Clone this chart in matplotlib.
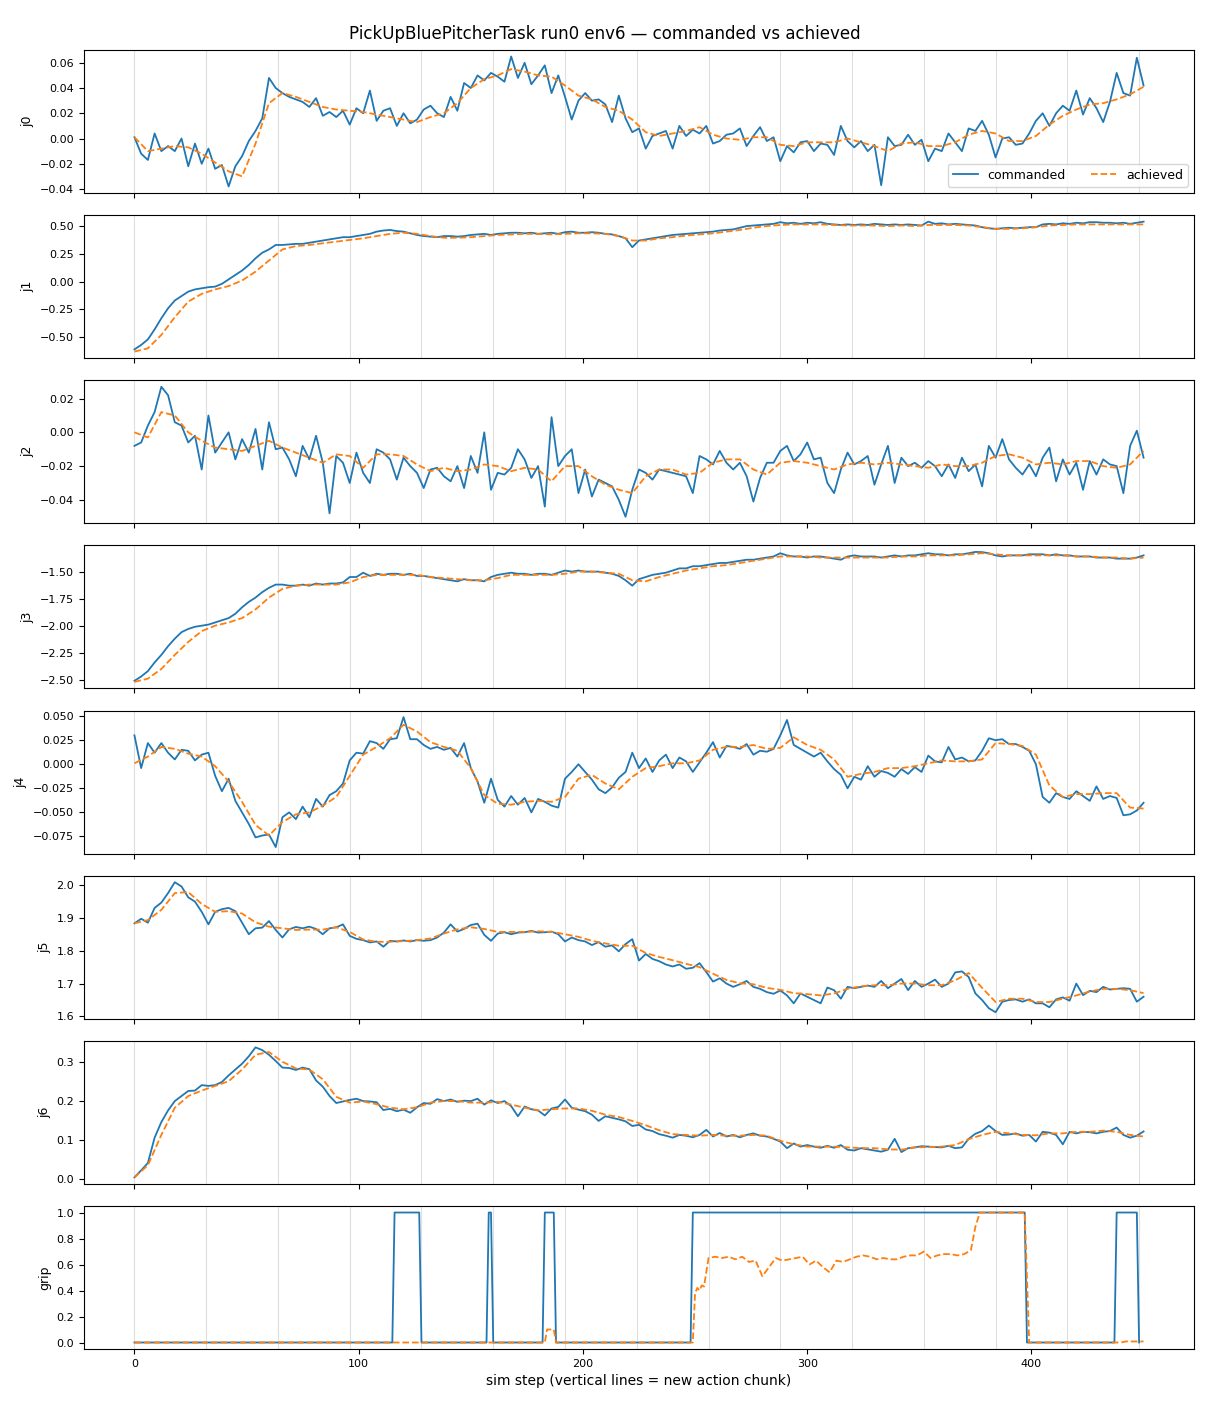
import matplotlib
matplotlib.use("Agg")
import matplotlib.pyplot as plt
import numpy as np

TITLE = "PickUpBluePitcherTask run0 env6 \u2014 commanded vs achieved"
XLABEL = "sim step (vertical lines = new action chunk)"
JOINT_NAMES = ["j0", "j1", "j2", "j3", "j4", "j5", "j6", "grip"]
CHUNK_STARTS = [0, 32, 64, 96, 128, 160, 192, 224, 256, 288, 320, 352, 384, 416, 448]

# commanded sampled every 3 sim steps, achieved every 6 sim steps
STEPS_CMD = list(range(0, 451, 3))
STEPS_ACH = list(range(0, 451, 6))

j0_cmd = [0.001, -0.012, -0.017, 0.004, -0.010, -0.006, -0.010, 0.000, -0.022, -0.004,
          -0.020, -0.008, -0.024, -0.021, -0.038, -0.022, -0.014, -0.002, 0.006, 0.016,
          0.048, 0.040, 0.036, 0.033, 0.031, 0.029, 0.025, 0.032, 0.018, 0.021,
          0.017, 0.022, 0.011, 0.024, 0.020, 0.038, 0.014, 0.022, 0.024, 0.010,
          0.020, 0.012, 0.015, 0.023, 0.026, 0.020, 0.017, 0.033, 0.022, 0.044,
          0.040, 0.050, 0.046, 0.052, 0.049, 0.045, 0.065, 0.048, 0.060, 0.043,
          0.050, 0.058, 0.036, 0.050, 0.033, 0.015, 0.030, 0.036, 0.030, 0.031,
          0.027, 0.013, 0.034, 0.016, 0.005, 0.008, -0.008, 0.002, 0.004, 0.006,
          -0.008, 0.010, 0.002, 0.007, 0.004, 0.010, -0.004, -0.002, 0.003, 0.004,
          0.008, -0.006, 0.002, 0.009, -0.002, 0.001, -0.018, -0.006, -0.011, -0.003,
          -0.002, -0.010, -0.004, -0.005, -0.013, 0.010, -0.002, -0.007, -0.002, -0.010,
          -0.005, -0.037, 0.001, -0.006, -0.005, 0.003, -0.005, -0.001, -0.018, -0.008,
          -0.010, 0.004, -0.003, -0.010, 0.008, 0.006, 0.014, 0.003, -0.015, 0.000,
          0.001, -0.005, -0.004, 0.004, 0.014, 0.020, 0.010, 0.020, 0.026, 0.022,
          0.038, 0.019, 0.032, 0.024, 0.013, 0.029, 0.052, 0.036, 0.034, 0.064,
          0.042]
j0_ach = [0.001, -0.010, -0.008, -0.006, -0.007,
          -0.012, -0.019, -0.026, -0.030, -0.004,
          0.028, 0.036, 0.033, 0.029, 0.025,
          0.023, 0.022, 0.021, 0.019, 0.017,
          0.015, 0.013, 0.017, 0.020, 0.028,
          0.040, 0.047, 0.050, 0.055, 0.053,
          0.050, 0.049, 0.042, 0.034, 0.031,
          0.025, 0.022, 0.015, 0.005, 0.002,
          0.004, 0.006, 0.009, 0.003, 0.000,
          -0.001, 0.001, 0.001, -0.005, -0.006,
          -0.003, -0.003, -0.003, 0.000, -0.003,
          -0.006, -0.010, -0.004, -0.003, -0.006,
          -0.006, -0.003, 0.003, 0.006, 0.004,
          -0.002, -0.002, 0.002, 0.011, 0.018,
          0.023, 0.027, 0.028, 0.031, 0.035,
          0.041]

j1_cmd = [-0.61, -0.57, -0.52, -0.43, -0.33, -0.24, -0.17, -0.13, -0.09, -0.07,
          -0.06, -0.05, -0.045, -0.02, 0.02, 0.06, 0.10, 0.15, 0.21, 0.26,
          0.29, 0.33, 0.33, 0.335, 0.34, 0.34, 0.35, 0.36, 0.37, 0.38,
          0.39, 0.40, 0.40, 0.41, 0.42, 0.43, 0.45, 0.46, 0.465, 0.455,
          0.45, 0.435, 0.42, 0.41, 0.405, 0.40, 0.41, 0.41, 0.405, 0.41,
          0.42, 0.425, 0.43, 0.42, 0.43, 0.435, 0.44, 0.44, 0.435, 0.44,
          0.43, 0.435, 0.44, 0.43, 0.445, 0.45, 0.44, 0.44, 0.445, 0.44,
          0.43, 0.425, 0.41, 0.39, 0.31, 0.37, 0.38, 0.39, 0.40, 0.41,
          0.42, 0.425, 0.43, 0.435, 0.44, 0.445, 0.45, 0.46, 0.465, 0.47,
          0.485, 0.50, 0.505, 0.51, 0.515, 0.52, 0.535, 0.525, 0.53, 0.52,
          0.53, 0.525, 0.535, 0.52, 0.515, 0.51, 0.515, 0.51, 0.515, 0.51,
          0.52, 0.515, 0.51, 0.515, 0.51, 0.515, 0.51, 0.505, 0.54, 0.52,
          0.525, 0.515, 0.52, 0.515, 0.51, 0.505, 0.49, 0.48, 0.475, 0.48,
          0.485, 0.48, 0.485, 0.49, 0.49, 0.515, 0.52, 0.515, 0.525, 0.52,
          0.53, 0.525, 0.535, 0.535, 0.53, 0.53, 0.525, 0.53, 0.52, 0.53,
          0.54]
j1_ach = [-0.63, -0.60, -0.48, -0.32, -0.18,
          -0.11, -0.07, -0.04, 0.01, 0.09,
          0.19, 0.29, 0.32, 0.33, 0.345,
          0.36, 0.375, 0.39, 0.41, 0.43,
          0.44, 0.43, 0.41, 0.395, 0.395,
          0.40, 0.41, 0.42, 0.425, 0.43,
          0.43, 0.425, 0.43, 0.435, 0.435,
          0.43, 0.41, 0.37, 0.37, 0.39,
          0.40, 0.415, 0.425, 0.435, 0.45,
          0.465, 0.485, 0.50, 0.51, 0.515,
          0.515, 0.515, 0.51, 0.505, 0.505,
          0.505, 0.50, 0.505, 0.50, 0.51,
          0.51, 0.51, 0.505, 0.49, 0.475,
          0.475, 0.48, 0.49, 0.505, 0.51,
          0.515, 0.515, 0.515, 0.515, 0.515,
          0.515]

j2_cmd = [-0.008, -0.006, 0.004, 0.012, 0.027, 0.022, 0.006, 0.004, -0.006, -0.002,
          -0.022, 0.010, -0.012, -0.006, 0.000, -0.016, -0.004, -0.012, 0.002, -0.022,
          0.006, -0.010, -0.009, -0.016, -0.026, -0.008, -0.016, -0.002, -0.018, -0.048,
          -0.014, -0.018, -0.030, -0.012, -0.024, -0.030, -0.010, -0.012, -0.016, -0.028,
          -0.015, -0.020, -0.024, -0.033, -0.022, -0.021, -0.026, -0.029, -0.020, -0.033,
          -0.014, -0.024, 0.000, -0.034, -0.024, -0.025, -0.021, -0.010, -0.016, -0.027,
          -0.020, -0.044, 0.009, -0.020, -0.014, -0.010, -0.036, -0.022, -0.038, -0.028,
          -0.030, -0.032, -0.040, -0.050, -0.034, -0.022, -0.024, -0.028, -0.022, -0.023,
          -0.024, -0.025, -0.026, -0.036, -0.014, -0.016, -0.019, -0.011, -0.018, -0.022,
          -0.018, -0.026, -0.041, -0.027, -0.018, -0.018, -0.011, -0.008, -0.017, -0.013,
          -0.006, -0.016, -0.015, -0.030, -0.036, -0.022, -0.012, -0.019, -0.017, -0.014,
          -0.031, -0.019, -0.008, -0.030, -0.015, -0.020, -0.018, -0.021, -0.017, -0.020,
          -0.026, -0.019, -0.027, -0.015, -0.023, -0.019, -0.032, -0.008, -0.015, -0.004,
          -0.016, -0.021, -0.025, -0.019, -0.026, -0.015, -0.009, -0.029, -0.016, -0.025,
          -0.018, -0.034, -0.017, -0.025, -0.016, -0.019, -0.020, -0.036, -0.008, 0.001,
          -0.015]
j2_ach = [0.000, -0.003, 0.012, 0.010, 0.000,
          -0.005, -0.009, -0.010, -0.011, -0.008,
          -0.005, -0.009, -0.012, -0.015, -0.018,
          -0.013, -0.014, -0.021, -0.013, -0.013,
          -0.014, -0.019, -0.023, -0.021, -0.023,
          -0.022, -0.019, -0.020, -0.023, -0.021,
          -0.022, -0.029, -0.020, -0.020, -0.026,
          -0.031, -0.034, -0.036, -0.026, -0.022,
          -0.022, -0.025, -0.024, -0.018, -0.016,
          -0.016, -0.022, -0.025, -0.018, -0.017,
          -0.018, -0.020, -0.022, -0.019, -0.018,
          -0.019, -0.018, -0.019, -0.020, -0.021,
          -0.019, -0.020, -0.020, -0.018, -0.014,
          -0.013, -0.015, -0.019, -0.018, -0.019,
          -0.017, -0.017, -0.020, -0.021, -0.019,
          -0.011]

j3_cmd = [-2.51, -2.47, -2.42, -2.34, -2.27, -2.19, -2.12, -2.06, -2.03, -2.01,
          -2.00, -1.99, -1.97, -1.95, -1.93, -1.89, -1.83, -1.78, -1.74, -1.69,
          -1.65, -1.62, -1.62, -1.63, -1.63, -1.62, -1.63, -1.61, -1.62, -1.61,
          -1.61, -1.60, -1.55, -1.55, -1.51, -1.54, -1.52, -1.53, -1.52, -1.52,
          -1.53, -1.52, -1.54, -1.54, -1.55, -1.56, -1.57, -1.58, -1.59, -1.57,
          -1.58, -1.58, -1.59, -1.55, -1.53, -1.52, -1.51, -1.52, -1.52, -1.53,
          -1.52, -1.52, -1.53, -1.51, -1.49, -1.50, -1.49, -1.50, -1.50, -1.50,
          -1.51, -1.52, -1.54, -1.58, -1.63, -1.57, -1.55, -1.53, -1.52, -1.51,
          -1.49, -1.47, -1.47, -1.45, -1.45, -1.44, -1.43, -1.42, -1.42, -1.41,
          -1.40, -1.39, -1.39, -1.38, -1.37, -1.36, -1.33, -1.35, -1.36, -1.36,
          -1.37, -1.36, -1.36, -1.37, -1.38, -1.39, -1.36, -1.35, -1.36, -1.36,
          -1.36, -1.37, -1.36, -1.35, -1.36, -1.35, -1.35, -1.34, -1.33, -1.34,
          -1.34, -1.35, -1.34, -1.34, -1.33, -1.318, -1.32, -1.33, -1.35, -1.36,
          -1.35, -1.35, -1.35, -1.34, -1.34, -1.34, -1.35, -1.34, -1.35, -1.35,
          -1.36, -1.36, -1.36, -1.37, -1.37, -1.37, -1.38, -1.38, -1.38, -1.37,
          -1.35]
j3_ach = [-2.52, -2.49, -2.40, -2.27, -2.15,
          -2.05, -2.00, -1.97, -1.93, -1.85,
          -1.74, -1.66, -1.63, -1.62, -1.62,
          -1.62, -1.60, -1.55, -1.53, -1.53,
          -1.53, -1.53, -1.55, -1.56, -1.57,
          -1.58, -1.58, -1.56, -1.53, -1.53,
          -1.53, -1.53, -1.52, -1.50, -1.50,
          -1.51, -1.52, -1.58, -1.59, -1.55,
          -1.52, -1.49, -1.47, -1.45, -1.44,
          -1.42, -1.40, -1.38, -1.36, -1.36,
          -1.36, -1.37, -1.37, -1.37, -1.37,
          -1.37, -1.37, -1.36, -1.36, -1.35,
          -1.35, -1.35, -1.34, -1.33, -1.34,
          -1.35, -1.35, -1.35, -1.35, -1.35,
          -1.36, -1.36, -1.37, -1.37, -1.38,
          -1.37]

j4_cmd = [0.030, -0.004, 0.022, 0.012, 0.022, 0.012, 0.005, 0.015, 0.014, 0.004,
          0.010, 0.012, -0.012, -0.028, -0.015, -0.038, -0.050, -0.062, -0.076, -0.074,
          -0.073, -0.086, -0.055, -0.050, -0.057, -0.044, -0.055, -0.036, -0.044, -0.032,
          -0.028, -0.020, 0.004, 0.012, 0.011, 0.024, 0.022, 0.016, 0.026, 0.027,
          0.049, 0.026, 0.026, 0.020, 0.016, 0.018, 0.015, 0.017, 0.008, 0.022,
          -0.004, -0.018, -0.040, -0.015, -0.037, -0.044, -0.033, -0.042, -0.035, -0.050,
          -0.036, -0.039, -0.043, -0.045, -0.015, -0.008, 0.000, -0.008, -0.016, -0.026,
          -0.030, -0.024, -0.014, -0.008, 0.012, -0.004, 0.006, -0.008, 0.004, 0.010,
          -0.004, 0.007, 0.003, -0.008, 0.002, 0.012, 0.023, 0.007, 0.019, 0.018,
          0.016, 0.021, 0.010, 0.014, 0.013, 0.016, 0.030, 0.046, 0.020, 0.016,
          0.012, 0.008, 0.012, 0.003, -0.005, -0.011, -0.025, -0.013, -0.016, -0.002,
          -0.013, -0.007, -0.009, -0.013, -0.005, -0.010, -0.003, -0.008, 0.009, 0.003,
          0.002, 0.018, 0.005, 0.007, 0.003, 0.004, 0.014, 0.027, 0.025, 0.026,
          0.021, 0.021, 0.018, 0.014, 0.000, -0.034, -0.040, -0.030, -0.034, -0.036,
          -0.028, -0.033, -0.038, -0.023, -0.036, -0.033, -0.035, -0.053, -0.052, -0.048,
          -0.040]
j4_ach = [0.001, 0.008, 0.018, 0.016, 0.011,
          0.008, -0.002, -0.018, -0.039, -0.063,
          -0.074, -0.060, -0.052, -0.050, -0.043,
          -0.034, -0.012, 0.010, 0.018, 0.027,
          0.041, 0.034, 0.023, 0.018, 0.014,
          -0.004, -0.032, -0.041, -0.042, -0.039,
          -0.038, -0.039, -0.034, -0.015, -0.011,
          -0.020, -0.026, -0.013, -0.004, -0.002,
          0.001, 0.001, 0.004, 0.015, 0.018,
          0.018, 0.020, 0.016, 0.017, 0.028,
          0.020, 0.015, 0.005, -0.013, -0.010,
          -0.008, -0.004, -0.004, -0.002, 0.001,
          0.004, 0.003, 0.003, 0.005, 0.022,
          0.021, 0.019, 0.010, -0.022, -0.034,
          -0.031, -0.031, -0.030, -0.030, -0.045,
          -0.046]

j5_cmd = [1.883, 1.897, 1.885, 1.930, 1.946, 1.975, 2.008, 1.995, 1.962, 1.949,
          1.918, 1.880, 1.918, 1.926, 1.930, 1.920, 1.885, 1.850, 1.868, 1.870,
          1.890, 1.863, 1.840, 1.865, 1.872, 1.868, 1.873, 1.866, 1.850, 1.868,
          1.871, 1.880, 1.845, 1.836, 1.832, 1.825, 1.828, 1.812, 1.830, 1.828,
          1.831, 1.828, 1.832, 1.830, 1.832, 1.840, 1.855, 1.880, 1.858, 1.866,
          1.878, 1.882, 1.848, 1.830, 1.852, 1.856, 1.850, 1.855, 1.856, 1.860,
          1.855, 1.856, 1.858, 1.850, 1.828, 1.840, 1.832, 1.828, 1.817, 1.826,
          1.812, 1.816, 1.798, 1.820, 1.835, 1.770, 1.790, 1.775, 1.768, 1.758,
          1.752, 1.758, 1.745, 1.748, 1.762, 1.735, 1.706, 1.716, 1.700, 1.690,
          1.698, 1.708, 1.690, 1.684, 1.674, 1.669, 1.679, 1.664, 1.640, 1.670,
          1.660, 1.650, 1.640, 1.688, 1.680, 1.654, 1.690, 1.686, 1.690, 1.694,
          1.690, 1.708, 1.686, 1.700, 1.714, 1.680, 1.708, 1.690, 1.700, 1.712,
          1.690, 1.700, 1.734, 1.737, 1.720, 1.670, 1.650, 1.625, 1.613, 1.645,
          1.650, 1.652, 1.645, 1.652, 1.640, 1.640, 1.628, 1.652, 1.658, 1.648,
          1.700, 1.665, 1.678, 1.674, 1.690, 1.682, 1.684, 1.686, 1.684, 1.645,
          1.660]
j5_ach = [1.883, 1.893, 1.924, 1.975, 1.978,
          1.942, 1.918, 1.920, 1.913, 1.886,
          1.873, 1.868, 1.863, 1.864, 1.864,
          1.871, 1.857, 1.834, 1.827, 1.827,
          1.829, 1.832, 1.837, 1.852, 1.865,
          1.871, 1.866, 1.857, 1.857, 1.857,
          1.859, 1.857, 1.850, 1.842, 1.830,
          1.822, 1.815, 1.815, 1.793, 1.781,
          1.771, 1.760, 1.750, 1.730, 1.711,
          1.701, 1.698, 1.687, 1.681, 1.671,
          1.668, 1.664, 1.670, 1.684, 1.692,
          1.695, 1.695, 1.700, 1.700, 1.695,
          1.695, 1.710, 1.732, 1.687, 1.644,
          1.654, 1.654, 1.644, 1.644, 1.654,
          1.664, 1.676, 1.684, 1.684, 1.680,
          1.671]

j6_cmd = [0.003, 0.021, 0.040, 0.105, 0.145, 0.175, 0.199, 0.212, 0.225, 0.226,
          0.240, 0.238, 0.240, 0.248, 0.265, 0.280, 0.295, 0.314, 0.337, 0.330,
          0.318, 0.302, 0.285, 0.284, 0.279, 0.285, 0.281, 0.252, 0.236, 0.212,
          0.194, 0.198, 0.202, 0.205, 0.199, 0.198, 0.196, 0.176, 0.179, 0.173,
          0.177, 0.169, 0.183, 0.194, 0.192, 0.204, 0.199, 0.203, 0.197, 0.200,
          0.199, 0.205, 0.190, 0.201, 0.194, 0.199, 0.186, 0.160, 0.185, 0.178,
          0.175, 0.162, 0.180, 0.184, 0.203, 0.182, 0.177, 0.173, 0.164, 0.148,
          0.160, 0.156, 0.152, 0.147, 0.135, 0.138, 0.126, 0.122, 0.114, 0.110,
          0.105, 0.112, 0.110, 0.106, 0.112, 0.125, 0.108, 0.117, 0.108, 0.112,
          0.106, 0.112, 0.116, 0.110, 0.108, 0.102, 0.095, 0.078, 0.090, 0.082,
          0.086, 0.082, 0.079, 0.084, 0.079, 0.086, 0.074, 0.072, 0.078, 0.075,
          0.072, 0.069, 0.074, 0.102, 0.068, 0.078, 0.080, 0.083, 0.082, 0.081,
          0.080, 0.084, 0.078, 0.080, 0.102, 0.115, 0.122, 0.136, 0.122, 0.112,
          0.113, 0.116, 0.110, 0.112, 0.095, 0.120, 0.118, 0.112, 0.088, 0.120,
          0.116, 0.120, 0.119, 0.116, 0.120, 0.122, 0.131, 0.112, 0.105, 0.110,
          0.121]
j6_ach = [0.003, 0.034, 0.112, 0.182, 0.212,
          0.226, 0.238, 0.250, 0.280, 0.318,
          0.325, 0.300, 0.283, 0.280, 0.255,
          0.210, 0.195, 0.198, 0.191, 0.182,
          0.178, 0.183, 0.195, 0.199, 0.199,
          0.195, 0.195, 0.197, 0.190, 0.182,
          0.175, 0.178, 0.180, 0.180, 0.174,
          0.164, 0.158, 0.148, 0.137, 0.124,
          0.114, 0.112, 0.110, 0.112, 0.110,
          0.110, 0.112, 0.110, 0.097, 0.088,
          0.082, 0.082, 0.082, 0.080, 0.078,
          0.078, 0.075, 0.074, 0.080, 0.081,
          0.082, 0.086, 0.101, 0.112, 0.120,
          0.116, 0.112, 0.111, 0.116, 0.116,
          0.120, 0.120, 0.123, 0.120, 0.112,
          0.108]

# gripper: values at the steps where the signal changes
grip_cmd_steps = [0, 115, 116, 127, 128, 157, 158, 159, 160, 182, 183, 187, 188,
                  248, 249, 397, 398, 437, 438, 447, 448]
grip_cmd = [0, 0, 1, 1, 0, 0, 1, 1, 0, 0, 1, 1, 0,
            0, 1, 1, 0, 0, 1, 1, 0]
grip_ach_steps = [0, 183, 184, 187, 188, 249, 250, 251, 252, 253, 254,
                  256, 259, 262, 265, 268, 271, 274, 277, 280, 283, 286, 289, 292, 295,
                  298, 301, 304, 307, 310, 313, 316, 319, 322, 325, 328, 331, 334, 337,
                  340, 343, 346, 349, 352, 355, 358, 361, 364, 367, 370, 373, 375, 377,
                  397, 399, 440, 442, 450]
grip_ach = [0.0, 0.0, 0.10, 0.10, 0.0, 0.0, 0.38, 0.42, 0.40, 0.44, 0.43,
            0.65, 0.66, 0.65, 0.66, 0.64, 0.66, 0.62, 0.63, 0.51, 0.58, 0.65, 0.63, 0.64, 0.65,
            0.66, 0.60, 0.63, 0.58, 0.54, 0.63, 0.62, 0.64, 0.66, 0.67, 0.66, 0.64, 0.65, 0.64,
            0.64, 0.66, 0.67, 0.67, 0.70, 0.65, 0.67, 0.68, 0.68, 0.67, 0.68, 0.71, 0.89, 1.00,
            1.00, 0.0, 0.0, 0.008, 0.008]

series = [
    (STEPS_CMD, j0_cmd, STEPS_ACH, j0_ach),
    (STEPS_CMD, j1_cmd, STEPS_ACH, j1_ach),
    (STEPS_CMD, j2_cmd, STEPS_ACH, j2_ach),
    (STEPS_CMD, j3_cmd, STEPS_ACH, j3_ach),
    (STEPS_CMD, j4_cmd, STEPS_ACH, j4_ach),
    (STEPS_CMD, j5_cmd, STEPS_ACH, j5_ach),
    (STEPS_CMD, j6_cmd, STEPS_ACH, j6_ach),
    (grip_cmd_steps, grip_cmd, grip_ach_steps, grip_ach),
]

fig, axes = plt.subplots(8, 1, figsize=(12.1, 14.08), dpi=100, sharex=True)
fig.subplots_adjust(left=0.0694, right=0.9868, top=0.9645, bottom=0.0419, hspace=0.155)

for ax, name, (xc, yc, xa, ya) in zip(axes, JOINT_NAMES, series):
    for c in CHUNK_STARTS:
        ax.axvline(c, color="0.5", alpha=0.25, lw=0.8, zorder=0)
    ax.plot(xc, yc, color="#1f77b4", lw=1.3, label="commanded")
    ax.plot(xa, ya, color="#ff7f0e", lw=1.3, ls="--", label="achieved")
    ax.set_ylabel(name, fontsize=9)
    ax.tick_params(labelsize=8)

axes[0].legend(loc="lower right", ncol=2, fontsize=9)
axes[-1].set_xlabel(XLABEL, fontsize=10)
fig.suptitle(TITLE, fontsize=12, y=0.982)

fig.savefig("out.png", dpi=100)
